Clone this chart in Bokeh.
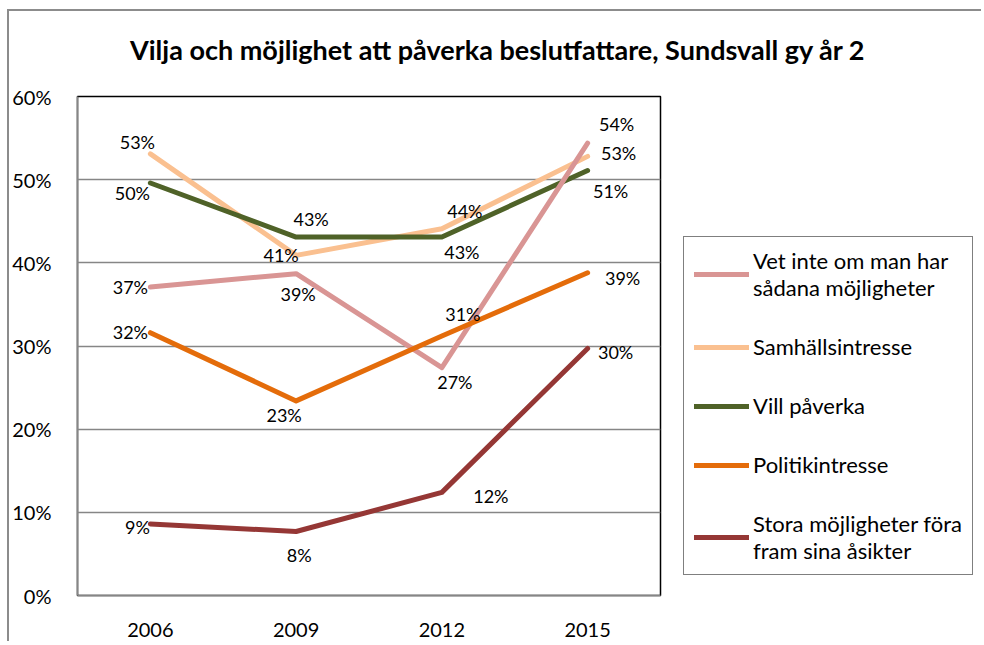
from bokeh.plotting import figure
from bokeh.layouts import row, column
from bokeh.models import (ColumnDataSource, FactorRange, Range1d, FixedTicker,
                          PrintfTickFormatter, Legend, LegendItem, Div)
from bokeh.embed import file_html
from bokeh.resources import INLINE
from bokeh.core.properties import value

FONT = "Lato"

title = "Vilja och möjlighet att påverka beslutfattare, Sundsvall gy år 2"
years = ["2006", "2009", "2012", "2015"]
series_names = [
    "Vet inte om man har\nsådana möjligheter",
    "Samhällsintresse",
    "Vill påverka",
    "Politikintresse",
    "Stora möjligheter föra\nfram sina åsikter",
]
vet_inte = [37.1, 38.7, 27.4, 54.4]
samhalls = [53.1, 40.9, 44.1, 52.8]
vill = [49.6, 43.1, 43.1, 51.1]
politik = [31.6, 23.4, 31.2, 38.8]
stora = [8.6, 7.7, 12.4, 29.7]
colors = ["#D99594", "#FAC090", "#4F6228", "#E46C0A", "#953735"]
values = [vet_inte, samhalls, vill, politik, stora]
y_ticks = [0, 10, 20, 30, 40, 50, 60]

# label offsets in screen pixels (dx, dy downward)
label_dx = [[-20, 2, 13, 29], [-13, -15, 23, 31], [-18, 15, 20, 23],
            [-20, -12, 21, 35], [-13, 3, 49, 28]]
label_dy = [[0, 20, 14, -19], [-12, 0, -18, -3], [10, -18, 15, 20],
            [-1, 14, -22, 5], [3, 24, 4, 4]]

title_div = Div(
    text=f'<div style="padding-left:121px; padding-top:23px; white-space:nowrap; '
         f'font-family:Lato; font-size:27px; font-weight:bold; color:#000; '
         f'line-height:32px">{title}</div>',
    width=972, height=60, margin=0)

p = figure(width=674, height=570, x_range=FactorRange(*years),
           y_range=Range1d(0, 60), output_backend="svg", toolbar_location=None,
           min_border_left=68, min_border_right=23, min_border_top=25,
           min_border_bottom=46)

p.outline_line_color = "#000000"
p.outline_line_width = 1.5

p.xgrid.grid_line_color = None
p.ygrid.grid_line_color = "#868686"
p.ygrid.grid_line_width = 1.5
p.yaxis.ticker = FixedTicker(ticks=y_ticks)
p.yaxis.formatter = PrintfTickFormatter(format="%d%%")
for ax in (p.xaxis[0], p.yaxis[0]):
    ax.axis_line_color = "#868686"
    ax.axis_line_width = 1.5
    ax.major_tick_line_color = None
    ax.minor_tick_line_color = None
    ax.major_label_text_font = FONT
    ax.major_label_text_font_size = "20px"
    ax.major_label_text_color = "#000000"
p.yaxis.major_label_standoff = 20
p.xaxis.major_label_standoff = 21

draw_order = [1, 2, 0, 3, 4]
for i in draw_order:
    src = ColumnDataSource(dict(x=years, y=values[i]))
    p.line("x", "y", source=src, line_color=colors[i], line_width=5,
           line_cap="round", line_join="round")

for i in range(5):
    src = ColumnDataSource(dict(x=years, y=values[i],
                                t=[f"{round(v)}%" for v in values[i]],
                                dx=label_dx[i], dy=label_dy[i]))
    p.text("x", "y", text="t", source=src, x_offset="dx", y_offset="dy",
           text_font=value(FONT), text_font_size="18px", text_color="#000000",
           text_align="center", text_baseline="middle")

# legend panel (separate canvas to the right of the plot area);
# its lines carry the same data but lie outside its visible range
p2 = figure(width=298, height=570, x_range=FactorRange(*years),
            y_range=Range1d(100, 101),
            x_axis_type=None, y_axis_type=None, output_backend="svg",
            toolbar_location=None, min_border=0)
p2.outline_line_color = None
p2.xgrid.grid_line_color = None
p2.ygrid.grid_line_color = None
items = []
for i in range(5):
    r = p2.line(x=years, y=values[i], line_color=colors[i], line_width=5,
                line_cap="round")
    items.append(LegendItem(label=series_names[i], renderers=[r]))

legend = Legend(items=items, location=(0, 20), orientation="vertical")
legend.border_line_color = "#000000"
legend.border_line_width = 1.5
legend.label_text_font = FONT
legend.label_text_font_size = "22px"
legend.label_text_color = "#000000"
legend.glyph_width = 55
legend.glyph_height = 24
legend.spacing = 32
legend.padding = 10
legend.margin = 0
legend.label_standoff = 4
legend.background_fill_alpha = 1
p2.add_layout(legend, "center")

layout = column(title_div, row(p, p2, spacing=0), spacing=0)
layout.styles = {"margin-left": "7px", "margin-top": "9px",
                 "border-top": "2px solid #8c8c8c", "border-left": "2px solid #8c8c8c"}

open("out.html", "w").write(file_html(layout, INLINE))
